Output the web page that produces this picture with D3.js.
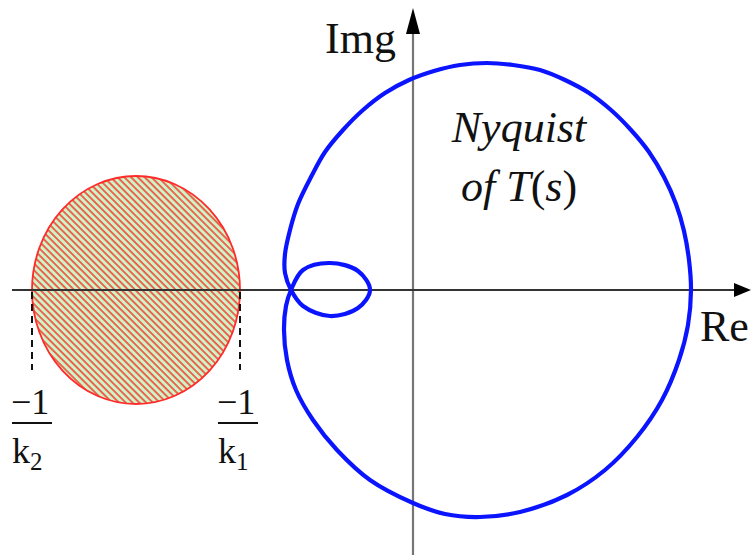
<!DOCTYPE html>
<html>
<head>
<meta charset="utf-8">
<script src="https://cdn.jsdelivr.net/npm/d3@7"></script>
<style>
  body { margin: 0; background: #fff; }
</style>
</head>
<body>
<script>
var width = 751;
var height = 558;

// Nyquist curve of T(s) (Re, Im)
var nyqRe = [2.78, 2.76, 2.71, 2.63, 2.51, 2.36, 2.18, 1.98, 1.76, 1.52,
             1.27, 1.00, 0.74, 0.47, 0.21, -0.04, -0.28, -0.50, -0.70, -0.88,
             -1.02, -1.15, -1.23, -1.28, -1.28, -1.22,
             -1.10, -0.83, -0.55, -0.43, -0.55, -0.83, -1.10, -1.22,
             -1.27, -1.29, -1.26, -1.17, -1.00, -0.76, -0.43, 0.00, 0.32, 0.67,
             1.07, 1.54, 1.92, 2.24, 2.49, 2.66, 2.75];
var nyqIm = [0.00, 0.30, 0.59, 0.86, 1.13, 1.38, 1.60, 1.80, 1.97, 2.10,
             2.20, 2.25, 2.27, 2.25, 2.19, 2.10, 1.97, 1.80, 1.60, 1.38,
             1.13, 0.86, 0.60, 0.36, 0.17, 0.00,
             -0.16, -0.26, -0.18, 0.00, 0.19, 0.27, 0.20, 0.00,
             -0.16, -0.40, -0.70, -1.00, -1.30, -1.60, -1.90, -2.13, -2.24, -2.27,
             -2.22, -2.05, -1.80, -1.47, -1.10, -0.70, -0.35];

// critical disc between -1/k2 and -1/k1
var discEdges = [-3.81, -1.73];
var discHalfHeight = 1.14;
var edgeLabels = ["2", "1"];   // subscripts of k

var serif = "Liberation Serif";

var svg = d3.select("body").append("svg")
    .attr("width", width)
    .attr("height", height)
    .style("font-family", serif);

var x = d3.scaleLinear().domain([-4.13, 3.38]).range([0, width]);
var y = d3.scaleLinear().domain([-2.68, 2.90]).range([height, 0]);

// hatch
var defs = svg.append("defs");
var pat = defs.append("pattern")
    .attr("id", "hatch")
    .attr("patternUnits", "userSpaceOnUse")
    .attr("width", 4.8)
    .attr("height", 4.8)
    .attr("patternTransform", "rotate(-45)");
pat.append("rect").attr("width", 4.8).attr("height", 4.8).attr("fill", "#cdf3c6");
pat.append("line")
    .attr("x1", 1).attr("y1", 0).attr("x2", 1).attr("y2", 4.8)
    .attr("stroke", "#f5392c").attr("stroke-width", 1.5);

var cx = (discEdges[0] + discEdges[1]) / 2;
var rx = (discEdges[1] - discEdges[0]) / 2;

svg.append("ellipse")
    .attr("cx", x(cx))
    .attr("cy", y(0))
    .attr("rx", x(cx + rx) - x(cx))
    .attr("ry", y(0) - y(discHalfHeight))
    .attr("fill", "url(#hatch)")
    .attr("stroke", "#ff2a2a")
    .attr("stroke-width", 1.8);

// axes
svg.append("line")
    .attr("x1", x(0)).attr("x2", x(0))
    .attr("y1", y(-2.65)).attr("y2", 30)
    .attr("stroke", "#767676").attr("stroke-width", 2.2);
svg.append("path")
    .attr("d", "M" + x(0) + ",8 L" + (x(0) - 7) + ",34 L" + (x(0) + 7) + ",34 Z")
    .attr("fill", "#000");

svg.append("line")
    .attr("x1", 12).attr("x2", 737)
    .attr("y1", y(0)).attr("y2", y(0))
    .attr("stroke", "#333").attr("stroke-width", 2.2);
svg.append("path")
    .attr("d", "M751," + y(0) + " L734," + (y(0) - 7) + " L734," + (y(0) + 7) + " Z")
    .attr("fill", "#000");

// dashed drops to the -1/k labels
svg.selectAll(".drop")
    .data(discEdges)
    .enter().append("line")
    .attr("class", "drop")
    .attr("x1", function(d) { return x(d); })
    .attr("x2", function(d) { return x(d); })
    .attr("y1", y(0) + 2)
    .attr("y2", y(0) + 80)
    .attr("stroke", "#111")
    .attr("stroke-width", 2)
    .attr("stroke-dasharray", "7,5");

// fraction labels -1/k
var frac = svg.selectAll(".frac")
    .data(discEdges)
    .enter().append("g")
    .attr("class", "frac")
    .attr("transform", function(d, i) { return "translate(" + (i == 0 ? 12 : 218) + ",0)"; });

frac.append("text")
    .attr("x", -1).attr("y", 414)
    .attr("font-size", 36)
    .attr("fill", "#111")
    .text("\u22121");
frac.append("line")
    .attr("x1", 0).attr("x2", 40)
    .attr("y1", 423).attr("y2", 423)
    .attr("stroke", "#111").attr("stroke-width", 2.2);
var kt = frac.append("text")
    .attr("x", 0).attr("y", 463)
    .attr("font-size", 36)
    .attr("fill", "#111");
kt.append("tspan").text("k");
kt.append("tspan")
    .attr("font-size", 25)
    .attr("dy", 7)
    .text(function(d, i) { return edgeLabels[i]; });

// nyquist curve
var pts = nyqRe.map(function(r, i) { return [r, nyqIm[i]]; });
var line = d3.line()
    .x(function(d) { return x(d[0]); })
    .y(function(d) { return y(d[1]); })
    .curve(d3.curveCatmullRomClosed.alpha(0.5));

svg.append("path")
    .attr("d", line(pts))
    .attr("fill", "none")
    .attr("stroke", "#0a14ff")
    .attr("stroke-width", 4.2);

// labels
svg.append("text")
    .attr("x", 325).attr("y", 53)
    .attr("font-size", 44)
    .attr("fill", "#111")
    .text("Img");

svg.append("text")
    .attr("x", 700).attr("y", 341)
    .attr("font-size", 44)
    .attr("fill", "#111")
    .text("Re");

svg.append("text")
    .attr("x", 519).attr("y", 142)
    .attr("text-anchor", "middle")
    .attr("font-size", 44)
    .style("font-style", "italic")
    .attr("fill", "#111")
    .text("Nyquist");

var t2 = svg.append("text")
    .attr("x", 519).attr("y", 201)
    .attr("text-anchor", "middle")
    .attr("font-size", 44)
    .attr("fill", "#111");
t2.append("tspan").style("font-style", "italic").text("of ");
t2.append("tspan").style("font-style", "italic").text("T");
t2.append("tspan").text("(");
t2.append("tspan").style("font-style", "italic").text("s");
t2.append("tspan").text(")");
</script>
</body>
</html>
